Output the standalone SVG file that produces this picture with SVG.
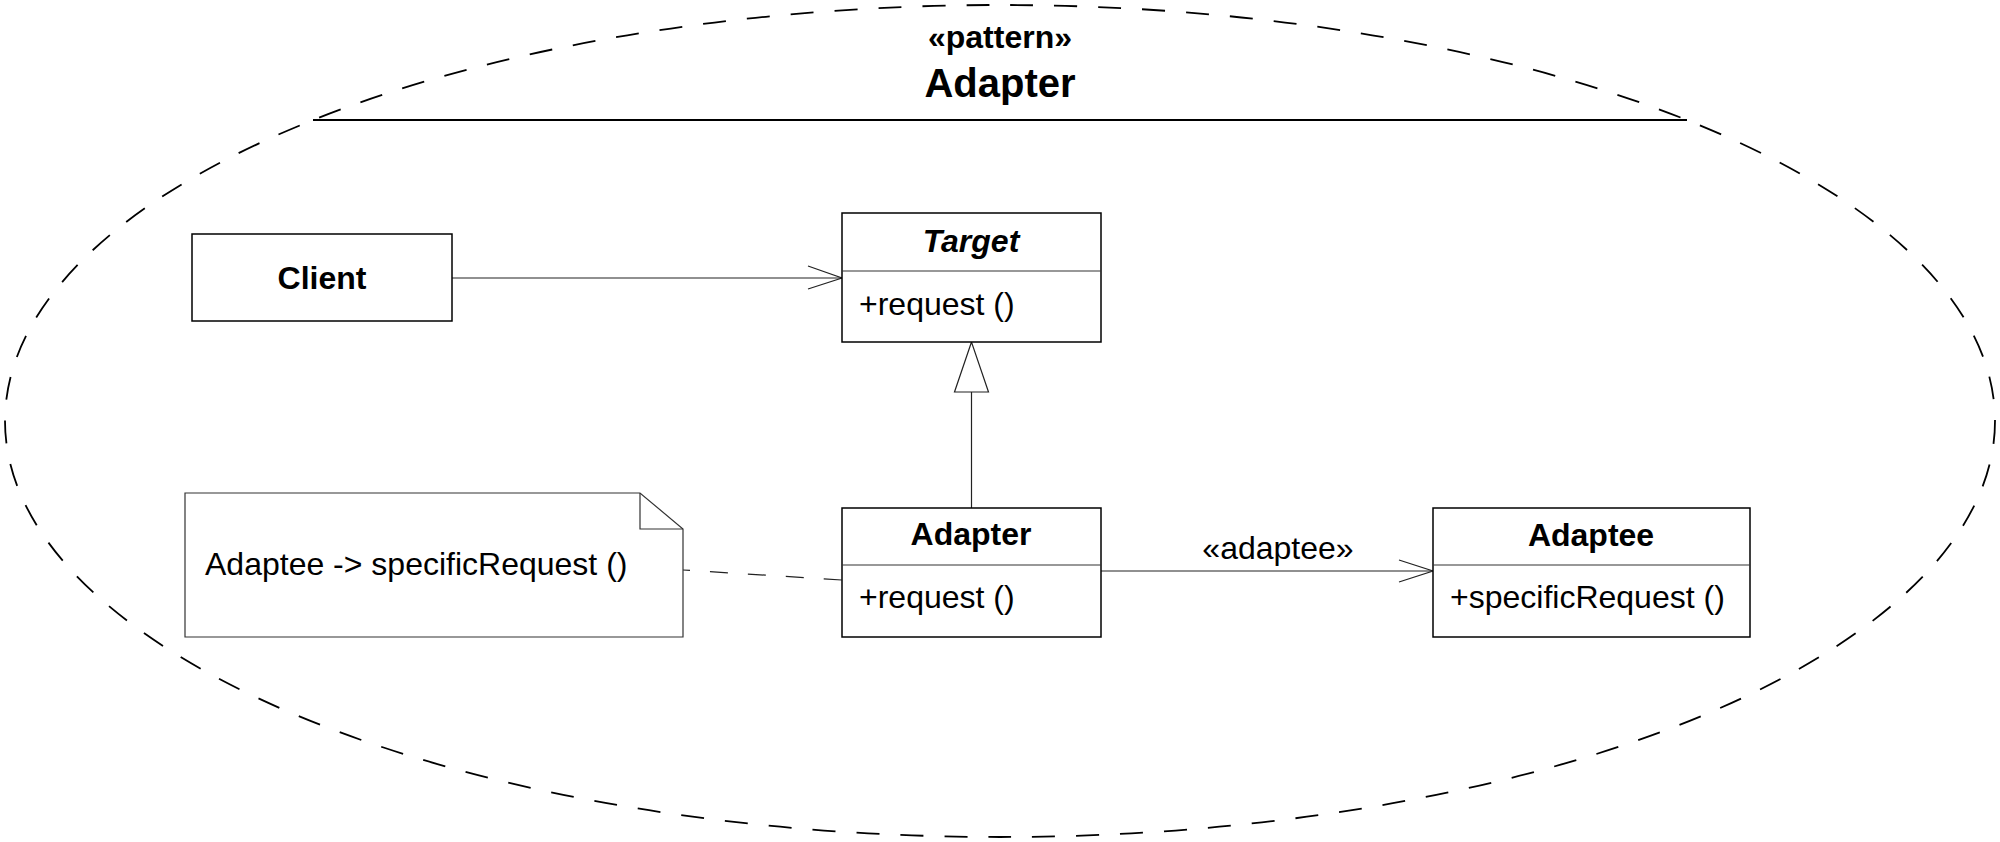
<svg xmlns="http://www.w3.org/2000/svg" width="2000" height="842" viewBox="0 0 2000 842">
<style>
text{font-family:"Liberation Sans",Arial,sans-serif;fill:#000}
.b{font-weight:bold}
.t32{font-size:32px}
.box{fill:#fff;stroke:#000;stroke-width:1.5}
.div{stroke:#333;stroke-width:1.2}
.con{fill:none;stroke:#222;stroke-width:1.2}
</style>
<rect width="2000" height="842" fill="#fff"/>
<g id="pattern">
<ellipse cx="1000" cy="421" rx="995" ry="416" fill="none" stroke="#000" stroke-width="1.8" stroke-dasharray="23 21"/>
<line x1="313" y1="120" x2="1687" y2="120" stroke="#000" stroke-width="2"/>
<text x="1000" y="48" text-anchor="middle" class="b" font-size="32">«pattern»</text>
<text x="1000" y="97" text-anchor="middle" class="b" font-size="40">Adapter</text>
</g>
<g id="connectors">
<line class="con" x1="452" y1="278" x2="842" y2="278"/>
<polyline class="con" points="808,266 842,278 808,289"/>
<line class="con" x1="971.5" y1="392" x2="971.5" y2="508"/>
<polygon points="971.5,342 954.5,392 988.5,392" fill="#fff" stroke="#222" stroke-width="1.2"/>
<line class="con" x1="1101" y1="571" x2="1433" y2="571"/>
<polyline class="con" points="1399,560 1433,571 1399,582"/>
<text x="1278" y="559" text-anchor="middle" class="t32">«adaptee»</text>
<line class="con" x1="683" y1="570" x2="842" y2="580" stroke-dasharray="18 20" stroke-dashoffset="11"/>
</g>
<g id="client">
<rect class="box" x="192" y="234" width="260" height="87"/>
<text x="322" y="289" text-anchor="middle" class="b t32">Client</text>
</g>
<g id="target">
<rect class="box" x="842" y="213" width="259" height="129"/>
<line class="div" x1="842" y1="271" x2="1101" y2="271"/>
<text x="971" y="252" text-anchor="middle" class="b t32" font-style="italic">Target</text>
<text x="859" y="315" class="t32">+request ()</text>
</g>
<g id="adapter">
<rect class="box" x="842" y="508" width="259" height="129"/>
<line class="div" x1="842" y1="565" x2="1101" y2="565"/>
<text x="971" y="545" text-anchor="middle" class="b t32">Adapter</text>
<text x="859" y="608" class="t32">+request ()</text>
</g>
<g id="adaptee">
<rect class="box" x="1433" y="508" width="317" height="129"/>
<line class="div" x1="1433" y1="565" x2="1750" y2="565"/>
<text x="1591" y="546" text-anchor="middle" class="b t32">Adaptee</text>
<text x="1450" y="608" class="t32">+specificRequest ()</text>
</g>
<g id="note">
<path d="M185,493 H640 L683,529 V637 H185 Z" fill="#fff" stroke="#333" stroke-width="1.2"/>
<path d="M640,493 V529 H683" fill="none" stroke="#333" stroke-width="1.2"/>
<text x="205" y="575" class="t32">Adaptee -&gt; specificRequest ()</text>
</g>
</svg>
